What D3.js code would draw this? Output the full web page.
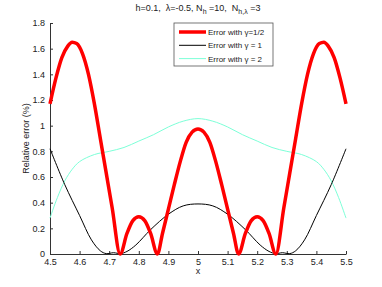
<!DOCTYPE html>
<html>
<head>
<meta charset="utf-8">
<script src="https://cdn.jsdelivr.net/npm/d3@7"></script>
<style>
  body { margin: 0; background: #fff; }
  text { font-family: "Liberation Sans", Arial, sans-serif; }
</style>
</head>
<body>
<div id="chart"></div>
<script>
// values
var redX = [4.50, 4.52, 4.54, 4.56, 4.575, 4.59, 4.61, 4.63, 4.65, 4.67, 4.69, 4.71, 4.737,
            4.76, 4.78, 4.80, 4.82, 4.84, 4.863, 4.88, 4.90, 4.92, 4.94, 4.96, 4.98, 5.00,
            5.02, 5.04, 5.06, 5.08, 5.10, 5.12, 5.137, 5.16, 5.18, 5.20, 5.22, 5.24, 5.263,
            5.29, 5.31, 5.33, 5.35, 5.37, 5.39, 5.41, 5.425, 5.44, 5.46, 5.48, 5.50];
var redY = [1.17, 1.37, 1.53, 1.62, 1.65, 1.64, 1.56, 1.40, 1.17, 0.90, 0.63, 0.36, 0.00,
            0.16, 0.26, 0.29, 0.26, 0.16, 0.00, 0.16, 0.35, 0.54, 0.72, 0.87, 0.95, 0.975,
            0.95, 0.87, 0.72, 0.54, 0.35, 0.16, 0.00, 0.16, 0.26, 0.29, 0.26, 0.16, 0.00,
            0.36, 0.63, 0.90, 1.17, 1.40, 1.56, 1.64, 1.65, 1.62, 1.53, 1.37, 1.17];

var blackX = [4.50, 4.55, 4.60, 4.64, 4.67, 4.69, 4.715, 4.738, 4.76, 4.79, 4.84, 4.90, 4.95, 5.00,
              5.05, 5.10, 5.16, 5.21, 5.24, 5.262, 5.285, 5.31, 5.33, 5.36, 5.40, 5.45, 5.50];
var blackY = [0.82, 0.54, 0.30, 0.11, 0.025, 0.003, 0.01, 0.003, 0.02, 0.07, 0.19, 0.31, 0.375, 0.39,
              0.375, 0.31, 0.19, 0.07, 0.02, 0.003, 0.01, 0.003, 0.025, 0.11, 0.30, 0.54, 0.82];

var cyanX = [4.50, 4.525, 4.55, 4.575, 4.60, 4.65, 4.70, 4.75, 4.80, 4.85, 4.90, 4.95, 5.00,
             5.05, 5.10, 5.15, 5.20, 5.25, 5.30, 5.35, 5.40, 5.425, 5.45, 5.475, 5.50];
var cyanY = [0.28, 0.44, 0.57, 0.66, 0.72, 0.775, 0.80, 0.83, 0.88, 0.93, 0.99, 1.035, 1.055,
             1.035, 0.99, 0.93, 0.88, 0.83, 0.80, 0.775, 0.72, 0.66, 0.57, 0.44, 0.28];

var xTicks = [4.5, 4.6, 4.7, 4.8, 4.9, 5, 5.1, 5.2, 5.3, 5.4, 5.5];
var yTicks = [0, 0.2, 0.4, 0.6, 0.8, 1, 1.2, 1.4, 1.6, 1.8];
var legendLabels = ["Error with \u03b3=1/2", "Error with \u03b3 = 1", "Error with \u03b3 = 2"];

var width = 382, height = 287;
var margin = {top: 23, right: 36, bottom: 33, left: 50};
var w = width - margin.left - margin.right,
    h = height - margin.top - margin.bottom;

var svg = d3.select("#chart").append("svg")
    .attr("width", width)
    .attr("height", height);

var g = svg.append("g")
    .attr("transform", "translate(" + margin.left + "," + margin.top + ")");

var x = d3.scaleLinear().domain([4.5, 5.5]).range([0, w]);
var y = d3.scaleLinear().domain([0, 1.8]).range([h, 0]);

// axes (ticks pointing inward like matlab)
var xAxis = g.append("g")
    .attr("transform", "translate(0," + h + ")")
    .call(d3.axisBottom(x).tickValues(xTicks).tickSizeInner(-3).tickSizeOuter(0)
      .tickPadding(5).tickFormat(d3.format("")));
var yAxis = g.append("g")
    .call(d3.axisLeft(y).tickValues(yTicks).tickSizeInner(-3).tickSizeOuter(0)
      .tickPadding(5).tickFormat(d3.format("")));

[xAxis, yAxis].forEach(function(a) {
  a.select(".domain").attr("stroke", "#333");
  a.selectAll(".tick line").attr("stroke", "#333");
  a.selectAll("text").attr("fill", "#222").style("font-size", "9px")
    .style("font-family", "Liberation Sans, Arial, sans-serif");
});

var smooth = d3.line()
    .x(function(d) { return x(d[0]); })
    .y(function(d) { return y(d[1]); })
    .curve(d3.curveCatmullRom.alpha(0.5));

var cusp = d3.line()
    .x(function(d) { return x(d[0]); })
    .y(function(d) { return y(d[1]); })
    .curve(d3.curveMonotoneX);

function zip(a, b) { return a.map(function(v, i) { return [v, b[i]]; }); }

var series = [
  {xs: cyanX, ys: cyanY, color: "#7dffd8", width: 1, line: smooth},
  {xs: blackX, ys: blackY, color: "#000", width: 1, line: smooth},
  {xs: redX, ys: redY, color: "#ff0000", width: 3.5, line: cusp}
];

series.forEach(function(s) {
  g.append("path")
    .datum(zip(s.xs, s.ys))
    .attr("fill", "none")
    .attr("stroke", s.color)
    .attr("stroke-width", s.width)
    .attr("stroke-linejoin", "round")
    .attr("d", s.line);
});

// title
var title = svg.append("text")
    .attr("x", margin.left + w / 2)
    .attr("y", 11)
    .attr("text-anchor", "middle")
    .style("font-size", "9px")
    .attr("fill", "#222")
    .attr("xml:space", "preserve")
    .style("white-space", "pre");
title.append("tspan").text("h=0.1,  \u03bb=-0.5, N");
title.append("tspan").attr("dy", 3).style("font-size", "7px").text("h");
title.append("tspan").attr("dy", -3).text(" =10,  N");
title.append("tspan").attr("dy", 3).style("font-size", "7px").text("h,\u03bb");
title.append("tspan").attr("dy", -3).text(" =3");

// axis labels
svg.append("text")
    .attr("x", margin.left + w / 2)
    .attr("y", 274)
    .attr("text-anchor", "middle")
    .style("font-size", "9px")
    .attr("fill", "#222")
    .text("x");

svg.append("text")
    .attr("transform", "translate(29," + (margin.top + h / 2) + ") rotate(-90)")
    .attr("text-anchor", "middle")
    .style("font-size", "9px")
    .attr("fill", "#222")
    .text("Relative error (%)");

// legend
var legend = svg.append("g").attr("transform", "translate(174,23)");
legend.append("rect")
    .attr("width", 99).attr("height", 43)
    .attr("fill", "#fff").attr("stroke", "#555").attr("stroke-width", 0.8);

var legendColors = ["#ff0000", "#000", "#7dffd8"];
var legendWidths = [3.5, 1, 1];
legendLabels.forEach(function(lbl, i) {
  var yy = 9 + i * 13.3;
  legend.append("line")
    .attr("x1", 5).attr("x2", 32).attr("y1", yy).attr("y2", yy)
    .attr("stroke", legendColors[i]).attr("stroke-width", legendWidths[i]);
  legend.append("text")
    .attr("x", 34).attr("y", yy + 3)
    .style("font-size", "8px")
    .attr("fill", "#222")
    .text(lbl);
});
</script>
</body>
</html>
